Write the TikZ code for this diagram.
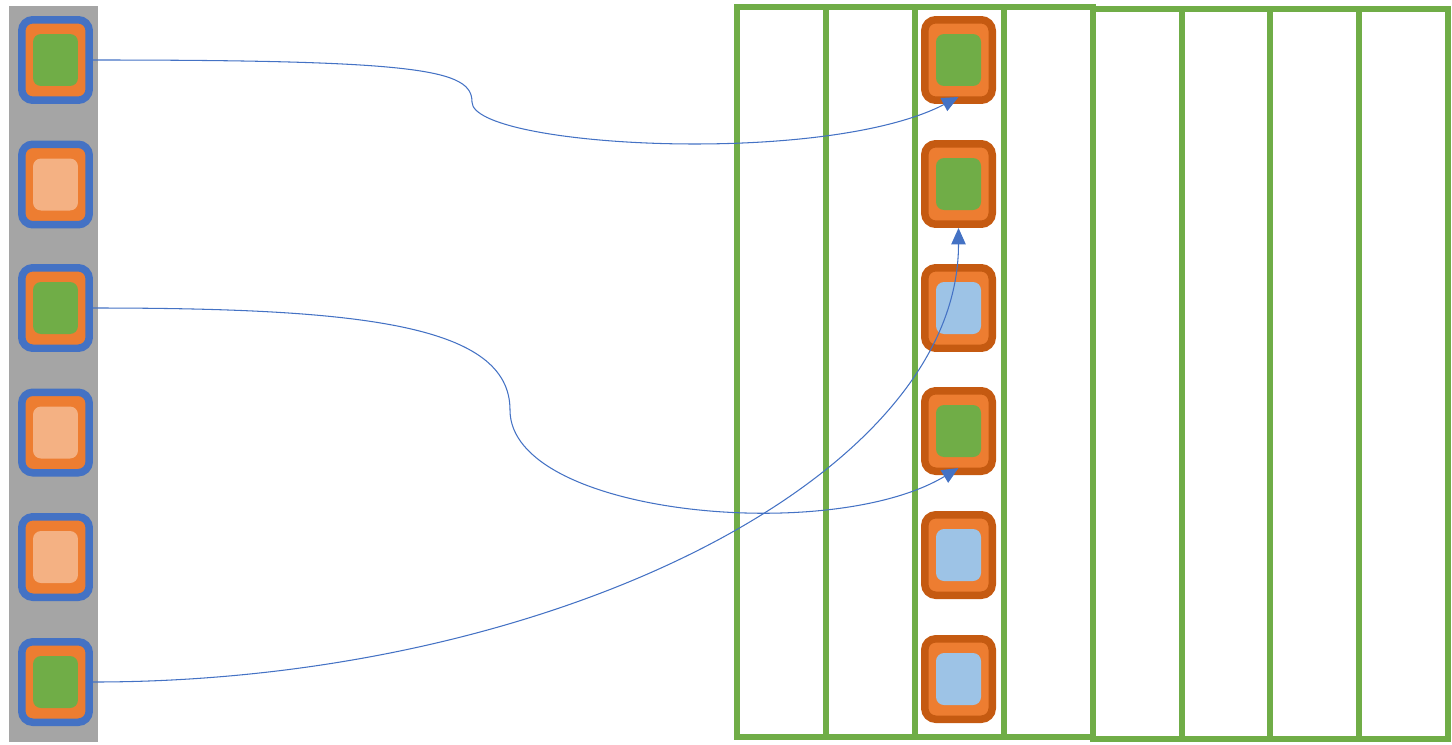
\documentclass[tikz,border=0pt]{standalone}
\usepackage{tikz}
\usetikzlibrary{arrows.meta}
\definecolor{SlotBlue}{RGB}{68, 114, 196}
\definecolor{SlotOrange}{RGB}{237, 125, 49}
\definecolor{SlotRust}{RGB}{197, 90, 17}
\definecolor{SlotGreen}{RGB}{112, 173, 71}
\definecolor{SlotPeach}{RGB}{244, 177, 131}
\definecolor{SlotSky}{RGB}{157, 195, 230}
\definecolor{SlotGrey}{RGB}{165, 165, 165}

\begin{document}
\begin{tikzpicture}[
    x=0.02cm,
    y=-0.02cm,
    srcbox/.style={
        rectangle,
        rounded corners=0.22cm,
        draw=SlotBlue,
        line width=0.15cm,
        fill=SlotOrange,
        minimum width=1.35cm,
        minimum height=1.61cm,
        inner sep=0pt
    },
    dstbox/.style={
        srcbox,
        draw=SlotRust
    },
    corebox/.style={
        rectangle,
        rounded corners=0.16cm,
        minimum width=0.9cm,
        minimum height=1.04cm,
        inner sep=0pt
    },
    lane/.style={
        draw=SlotGreen,
        line width=0.13cm
    },
    link/.style={
        draw=SlotBlue,
        line width=0.6pt,
        -{Triangle[length=0.33cm,width=0.29cm]}
    }
]
\useasboundingbox (0,0) rectangle (1452,744);
% -------------------------------------------------------------
% SOURCE COLUMN
% -------------------------------------------------------------
\fill[SlotGrey] (9,6) rectangle (98,742);
\node[srcbox] (src1) at (55.5,60) {};
\node[corebox, fill=SlotGreen] (src1core) at (src1.center) {};
\node[srcbox] (src2) at (55.5,184.5) {};
\node[corebox, fill=SlotPeach] (src2core) at (src2.center) {};
\node[srcbox] (src3) at (55.5,308) {};
\node[corebox, fill=SlotGreen] (src3core) at (src3.center) {};
\node[srcbox] (src4) at (55.5,432.5) {};
\node[corebox, fill=SlotPeach] (src4core) at (src4.center) {};
\node[srcbox] (src5) at (55.5,557) {};
\node[corebox, fill=SlotPeach] (src5core) at (src5.center) {};
\node[srcbox] (src6) at (55.5,682) {};
\node[corebox, fill=SlotGreen] (src6core) at (src6.center) {};
% -------------------------------------------------------------
% LANES
% -------------------------------------------------------------
\draw[lane] (737,7) rectangle (1093,737);
\draw[lane] (1093,9) rectangle (1448,739);
\foreach \lx in {826,915,1004} {
    \draw[lane] (\lx,7) -- (\lx,737);
}
\foreach \lx in {1182,1270,1359} {
    \draw[lane] (\lx,9) -- (\lx,739);
}
% -------------------------------------------------------------
% TARGET SLOTS
% -------------------------------------------------------------
\node[dstbox] (dst1) at (958.5,60) {};
\node[corebox, fill=SlotGreen] (dst1core) at (dst1.center) {};
\node[dstbox] (dst2) at (958.5,184) {};
\node[corebox, fill=SlotGreen] (dst2core) at (dst2.center) {};
\node[dstbox] (dst3) at (958.5,308) {};
\node[corebox, fill=SlotSky] (dst3core) at (dst3.center) {};
\node[dstbox] (dst4) at (958.5,431) {};
\node[corebox, fill=SlotGreen] (dst4core) at (dst4.center) {};
\node[dstbox] (dst5) at (958.5,555) {};
\node[corebox, fill=SlotSky] (dst5core) at (dst5.center) {};
\node[dstbox] (dst6) at (958.5,679) {};
\node[corebox, fill=SlotSky] (dst6core) at (dst6.center) {};
% -------------------------------------------------------------
% LINKS
% -------------------------------------------------------------
\coordinate (bendA) at (472,102);
\coordinate (bendB) at (510,410);
\draw[link]
(src1.east)
.. controls +(330,0) and +(0,-32) ..
(bendA)
.. controls +(0,45) and +(-135,70) ..
([yshift=0.14cm]dst1.south);
\draw[link]
(src3.east)
.. controls +(270,0) and +(0,-85) ..
(bendB)
.. controls +(0,105) and +(-128,77) ..
([yshift=0.14cm]dst4.south);
\draw[link]
(src6.east)
.. controls +(457,0) and +(0,250) ..
(dst2.south);
\end{tikzpicture}
\end{document}
